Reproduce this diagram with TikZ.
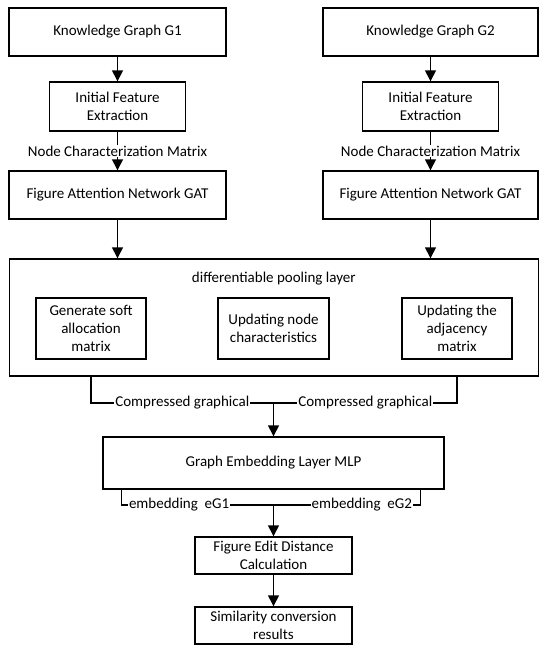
\documentclass[tikz,border=0pt]{standalone}
\usepackage{fontspec}
\setmainfont{Carlito}
\usetikzlibrary{arrows.meta}
\begin{document}
\begin{tikzpicture}[x=1pt,y=-1pt,
  box/.style={draw, line width=1.4pt, align=center, font=\fontsize{15}{18}\selectfont, inner sep=0pt},
  plain/.style={align=center, font=\fontsize{15}{18}\selectfont, inner sep=0pt},
  lbl/.style={fill=white, inner sep=1pt, font=\fontsize{15}{18}\selectfont},
  arr/.style={line width=1.4pt, -{Triangle[length=11pt,width=11pt]}},
  ln/.style={line width=1.4pt}]
\useasboundingbox (0,0) rectangle (550,651);
% top row
\node[box, minimum width=217pt, minimum height=48pt] (kg1) at (117.5,32) {Knowledge Graph G1};
\node[box, minimum width=215pt, minimum height=48pt] (kg2) at (430.5,32) {Knowledge Graph G2};
\node[box, minimum width=136pt, minimum height=49pt] (ife1) at (117.5,106.5) {Initial Feature\\Extraction};
\node[box, minimum width=136pt, minimum height=49pt] (ife2) at (430.5,106.5) {Initial Feature\\Extraction};
\node[box, minimum width=217pt, minimum height=48pt] (fan1) at (117.5,195) {Figure Attention Network GAT};
\node[box, minimum width=215pt, minimum height=48pt] (fan2) at (430.5,195) {Figure Attention Network GAT};
% pooling layer
\node[box, minimum width=529pt, minimum height=117pt] (pool) at (273.8,317.5) {};
\node[plain] (ptitle) at (273.8,279) {differentiable pooling layer};
\node[box, minimum width=110pt, minimum height=61pt] (lb) at (91,328.5) {Generate soft\\allocation\\matrix};
\node[box, minimum width=111pt, minimum height=61pt] (mb) at (273.5,328.5) {Updating node\\characteristics};
\node[box, minimum width=110pt, minimum height=61pt] (rb) at (457,328.5) {Updating the\\adjacency\\matrix};
% lower part
\node[box, minimum width=341pt, minimum height=52pt] (gel) at (273.5,463) {Graph Embedding Layer MLP};
\node[box, minimum width=157pt, minimum height=37pt] (fed) at (273.5,555.5) {Figure Edit Distance\\Calculation};
\node[box, minimum width=157pt, minimum height=37pt] (scr) at (273.5,625.5) {Similarity conversion\\results};
\coordinate (j1) at (273.5,403);
\coordinate (j2) at (273.5,505);
\coordinate (e1) at ([xshift=19pt]gel.south west);
\coordinate (e2) at ([xshift=-24pt]gel.south east);
% connectors
\draw[arr] (kg1) -- (ife1);
\draw[arr] (kg2) -- (ife2);
\draw[arr] (ife1) -- node[lbl]{Node Characterization Matrix} (fan1);
\draw[arr] (ife2) -- node[lbl]{Node Characterization Matrix} (fan2);
\draw[arr] (fan1) -- (fan1 |- pool.north);
\draw[arr] (fan2) -- (fan2 |- pool.north);
\draw[ln] (lb |- pool.south) -- (lb |- j1) -- node[lbl]{Compressed graphical} (j1);
\draw[ln] (rb |- pool.south) -- (rb |- j1) -- node[lbl]{Compressed graphical} (j1);
\draw[arr] (j1) -- (gel);
\draw[ln] (e1) -- (e1 |- j2) -- node[lbl,pos=0.38]{embedding\ \ eG1} (j2);
\draw[ln] (e2) -- (e2 |- j2) -- node[lbl,pos=0.40]{embedding\ \ eG2} (j2);
\draw[arr] (j2) -- (fed);
\draw[arr] (fed) -- (scr);
\end{tikzpicture}
\end{document}
